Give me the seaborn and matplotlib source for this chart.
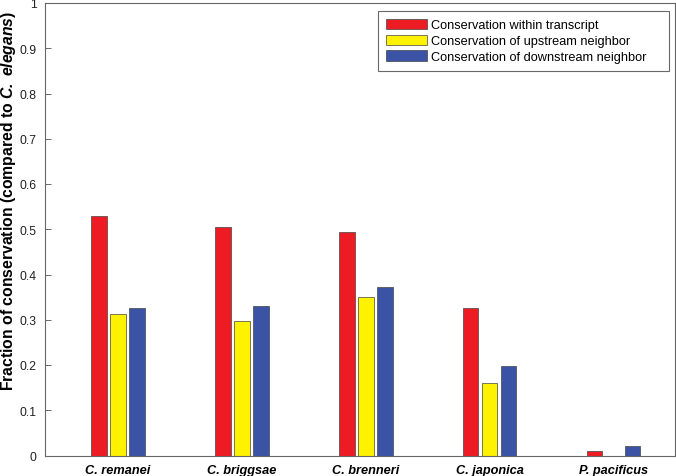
import pandas as pd
import matplotlib
matplotlib.use("Agg")
import matplotlib.pyplot as plt
import seaborn as sns

species = ['C. remanei', 'C. briggsae', 'C. brenneri', 'C. japonica', 'P. pacificus']
within = [0.530, 0.505, 0.495, 0.325, 0.009]
upstream = [0.312, 0.298, 0.350, 0.160, 0.0]
downstream = [0.326, 0.330, 0.373, 0.198, 0.020]
series = ['Conservation within transcript',
          'Conservation of upstream neighbor',
          'Conservation of downstream neighbor']
colors = ['#ED1C24', '#FFF200', '#3A53A4']

df = pd.DataFrame({
    'species': species * 3,
    'series': [series[0]] * 5 + [series[1]] * 5 + [series[2]] * 5,
    'value': within + upstream + downstream,
})

plt.rcParams['font.family'] = ['Liberation Sans', 'DejaVu Sans']
plt.rcParams['mathtext.fontset'] = 'custom'
plt.rcParams['mathtext.rm'] = 'Liberation Sans'
plt.rcParams['mathtext.it'] = 'Liberation Sans:italic'
plt.rcParams['mathtext.bf'] = 'Liberation Sans:bold'
plt.rcParams['mathtext.bfit'] = 'Liberation Sans:italic:bold'

fig = plt.figure(figsize=(6.76, 4.77), dpi=100)
ax = fig.add_axes([45 / 676, 20.5 / 477, 630 / 676, 452.5 / 477])

sns.barplot(data=df, x='species', y='value', hue='series', palette=colors,
            width=0.46, gap=0.18, edgecolor='#444444', linewidth=0.5,
            saturation=1, ax=ax)

ax.set_xlim(-0.589, 4.496)
ax.set_ylim(0, 1)
ax.set_yticks([i / 10 for i in range(11)])
ax.set_yticklabels(['0', '0.1', '0.2', '0.3', '0.4', '0.5', '0.6', '0.7', '0.8', '0.9', '1'])
ax.tick_params(axis='y', direction='in', length=4, width=0.6, color='#555555',
               labelsize=8.7, labelcolor='#222222', pad=6)
ax.tick_params(axis='x', length=0, pad=6)
for lab in ax.get_xticklabels():
    lab.set_fontweight('bold')
    lab.set_fontstyle('italic')
    lab.set_fontsize(9.2)
for s in ax.spines.values():
    s.set_color('#666666')
    s.set_linewidth(0.8)

ax.set_xlabel('')
ax.set_ylabel(r'Fraction of conservation (compared to $\mathbfit{C.\ elegans}$)',
              fontsize=11.3, fontweight='bold')
ax.yaxis.set_label_coords(-0.043, 0.5646)

leg = ax.legend(loc='upper left', bbox_to_anchor=(0.5286, 0.9823, 0.4619, 0.0),
                mode='expand', fontsize=9.2, frameon=True, fancybox=False,
                handlelength=3.2, handleheight=0.9, labelspacing=0.25,
                handletextpad=0.35, borderpad=0.6, borderaxespad=0)
leg.get_frame().set_edgecolor('#444444')
leg.get_frame().set_linewidth(0.8)

fig.savefig('out.png', dpi=100)
